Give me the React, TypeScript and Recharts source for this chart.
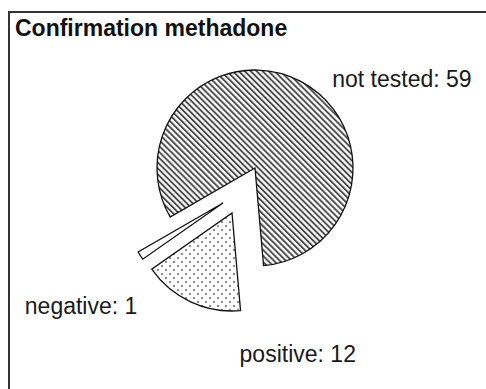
import { PieChart, Pie, Cell } from "recharts";

const title = "Confirmation methadone";
const sliceNames = ["not tested", "negative", "positive"];
const sliceValues = [59, 1, 12];

const data = sliceNames.map((name, i) => ({ name, value: sliceValues[i] }));

// styling / layout (not data)
const fills: Record<string, string> = {
  "not tested": "url(#hatch)",
  negative: "#fff",
  positive: "url(#dots)",
};

// each slice gets its own pie centre so the small ones sit pulled out
const pieCentres = [
  { show: "not tested", cx: 255, cy: 168 },
  { show: "negative", cx: 223, cy: 203 },
  { show: "positive", cx: 232, cy: 213 },
];

const labelNudge: Record<string, [number, number, "start" | "end"]> = {
  "not tested": [32, 6, "start"],
  negative: [-3, 58, "end"],
  positive: [49, 60, "start"],
};

const font = "'Liberation Sans', Arial, sans-serif";

function makeLabel(show: string) {
  return (props: any) => {
    const { cx, cy, midAngle, outerRadius, index, value } = props;
    const name = sliceNames[index];
    if (name !== show) return null;
    const rad = Math.PI / 180;
    const x = cx + outerRadius * Math.cos(-midAngle * rad);
    const y = cy + outerRadius * Math.sin(-midAngle * rad);
    const [dx, dy, anchor] = labelNudge[name];
    return (
      <text x={x + dx} y={y + dy} textAnchor={anchor} fontSize={23} fontFamily={font} fill="#1a1a1a">
        {`${name}: ${value}`}
      </text>
    );
  };
}

export default function App() {
  return (
    <div style={{ position: "absolute", left: 0, top: 0, width: 486, height: 389, overflow: "hidden", background: "#fff" }}>
      <div
        style={{
          position: "absolute", left: 8, top: 11, width: 478, height: 378, boxSizing: "border-box",
          borderLeft: "2px solid #333", borderTop: "2px solid #333",
        }}
      />
      <div
        style={{
          position: "absolute", left: 15, top: 17, fontFamily: font, fontWeight: "bold",
          fontSize: 23, lineHeight: "23px", color: "#111", whiteSpace: "nowrap",
        }}
      >
        {title}
      </div>
      <div style={{ position: "absolute", left: 0, top: 0 }}>
        <PieChart width={486} height={389} margin={{ top: 0, right: 0, bottom: 0, left: 0 }}>
          <defs>
            <pattern id="hatch" patternUnits="userSpaceOnUse" width={4.2} height={4.2} patternTransform="rotate(-45)">
              <rect width={4.2} height={4.2} fill="#fff" />
              <rect x={0} y={0} width={1.9} height={4.2} fill="#4a4a4a" />
            </pattern>
            <pattern id="dots" patternUnits="userSpaceOnUse" width={8} height={8}>
              <rect width={8} height={8} fill="#fff" />
              <circle cx={2} cy={2} r={0.9} fill="#555" />
              <circle cx={6} cy={6} r={0.9} fill="#555" />
            </pattern>
          </defs>
          {pieCentres.map((p) => (
            <Pie
              key={p.show}
              data={data}
              dataKey="value"
              nameKey="name"
              cx={p.cx}
              cy={p.cy}
              outerRadius={98}
              startAngle={-85}
              endAngle={275}
              isAnimationActive={false}
              labelLine={false}
              label={makeLabel(p.show)}
            >
              {data.map((d) =>
                d.name === p.show ? (
                  <Cell key={d.name} fill={fills[d.name]} stroke="#111" strokeWidth={1.3} />
                ) : (
                  <Cell key={d.name} fill="none" stroke="none" />
                )
              )}
            </Pie>
          ))}
        </PieChart>
      </div>
    </div>
  );
}
